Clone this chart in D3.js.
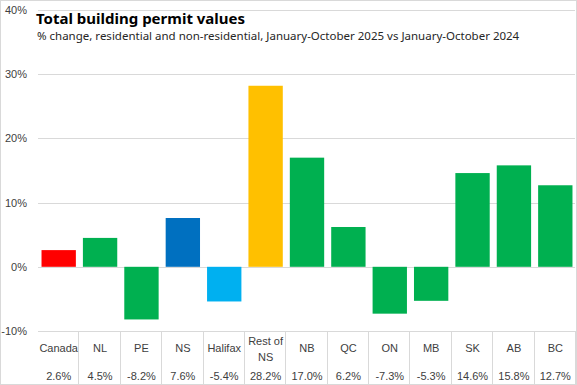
<!DOCTYPE html>
<html>
<head>
<meta charset="utf-8">
<script src="https://cdn.jsdelivr.net/npm/d3@7"></script>
<style>
  body { margin: 0; background: #fff; }
  svg { display: block; }
  .axis text { font-family: "Liberation Sans", Arial, sans-serif; font-size: 11px; fill: #404040; }
</style>
</head>
<body>
<div id="chart"></div>
<script>
// chart data
var categories = ["Canada", "NL", "PE", "NS", "Halifax", "Rest of NS", "NB", "QC", "ON", "MB", "SK", "AB", "BC"];
var values = [2.6, 4.5, -8.2, 7.6, -5.4, 28.2, 17.0, 6.2, -7.3, -5.3, 14.6, 15.8, 12.7];
var valueLabels = ["2.6%", "4.5%", "-8.2%", "7.6%", "-5.4%", "28.2%", "17.0%", "6.2%", "-7.3%", "-5.3%", "14.6%", "15.8%", "12.7%"];
var barColors = ["#ff0000", "#00b050", "#00b050", "#0070c0", "#00b0f0", "#ffc000", "#00b050", "#00b050", "#00b050", "#00b050", "#00b050", "#00b050", "#00b050"];
var yTicks = [-10, 0, 10, 20, 30, 40];

var width = 577, height = 385;
var plotLeft = 38, plotRight = 576;

var svg = d3.select("#chart").append("svg")
    .attr("width", width)
    .attr("height", height);

// outer frame
svg.append("rect")
    .attr("x", 0.5).attr("y", 0.5)
    .attr("width", width - 1).attr("height", height - 1)
    .style("fill", "#fff")
    .style("stroke", "#d9d9d9");

var x = d3.scaleBand()
    .domain(categories)
    .range([plotLeft, plotRight])
    .paddingInner(0.17)
    .paddingOuter(0.085);

var xCell = d3.scaleBand()
    .domain(categories)
    .range([plotLeft, plotRight]);

var y = d3.scaleLinear()
    .domain([-10, 40])
    .range([331, 10]);

// gridlines + y labels
var yAxis = d3.axisLeft(y)
    .tickValues(yTicks)
    .tickFormat(function(d) { return d + "%"; })
    .tickSize(-(plotRight - 1 - plotLeft))
    .tickPadding(11);

var gy = svg.append("g")
    .attr("class", "axis")
    .attr("transform", "translate(" + plotLeft + ",0)")
    .call(yAxis);
gy.select(".domain").remove();
gy.selectAll("line").style("stroke", "#d9d9d9").attr("shape-rendering", "crispEdges");

// bars
svg.selectAll("rect.bar")
    .data(values)
    .enter().append("rect")
        .attr("class", "bar")
        .attr("x", function(d, i) { return x(categories[i]); })
        .attr("width", x.bandwidth())
        .attr("y", function(d) { return y(Math.max(0, d)); })
        .attr("height", function(d) { return Math.abs(y(d) - y(0)); })
        .style("fill", function(d, i) { return barColors[i]; });

// data table below the axis
var tableTop = y(-10);
svg.selectAll("line.cell")
    .data(categories)
    .enter().append("line")
        .attr("class", "cell")
        .attr("x1", function(d) { return Math.round(xCell(d) + xCell.bandwidth()) - 0.5; })
        .attr("x2", function(d) { return Math.round(xCell(d) + xCell.bandwidth()) - 0.5; })
        .attr("y1", tableTop)
        .attr("y2", height)
        .style("stroke", "#d9d9d9");

var labels = svg.append("g").attr("class", "axis");
labels.selectAll("text.cat")
    .data(categories)
    .enter().append("text")
        .attr("class", "cat")
        .attr("text-anchor", "middle")
        .attr("x", function(d) { return xCell(d) + xCell.bandwidth() / 2; })
        .attr("y", 352)
        .each(function(d) {
            var t = d3.select(this);
            if (d === "Rest of NS") {
                t.append("tspan").attr("x", t.attr("x")).attr("y", 345).text("Rest of");
                t.append("tspan").attr("x", t.attr("x")).attr("y", 361).text("NS");
            } else {
                t.text(d);
            }
        });

labels.selectAll("text.val")
    .data(valueLabels)
    .enter().append("text")
        .attr("class", "val")
        .attr("text-anchor", "middle")
        .attr("x", function(d, i) { return xCell(categories[i]) + xCell.bandwidth() / 2; })
        .attr("y", 380)
        .text(function(d) { return d; });

// title block
svg.append("text")
    .attr("x", 36).attr("y", 24)
    .style("font-family", "'Noto Sans', sans-serif")
    .style("font-weight", "bold")
    .style("font-size", "15px")
    .style("fill", "#000")
    .text("Total building permit values");

svg.append("text")
    .attr("x", 37).attr("y", 40)
    .style("font-family", "'Noto Sans', sans-serif")
    .style("font-size", "11.5px")
    .style("fill", "#262626")
    .text("% change, residential and non-residential, January-October  2025 vs January-October 2024");
</script>
</body>
</html>
